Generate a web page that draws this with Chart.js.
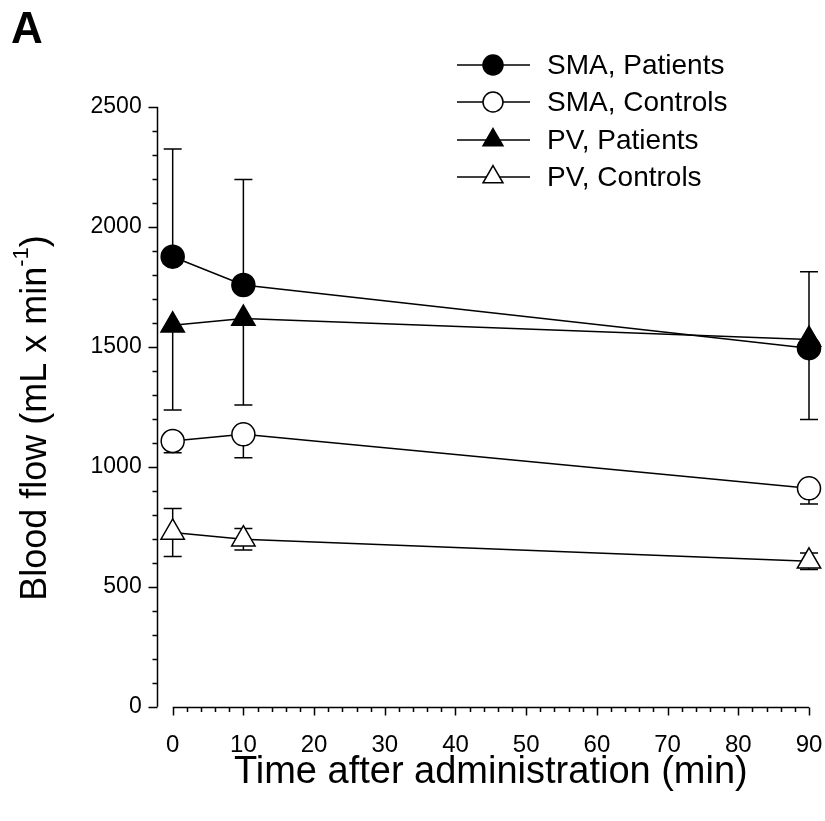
<!DOCTYPE html>
<html lang="en">
<head>
    <meta charset="UTF-8">
    <title>Blood flow</title>
    <style>
        body { margin: 0; background: #fff; }
        #chart { display: block; }
    </style>
</head>
<body>
    <canvas id="chart" width="825" height="821"></canvas>
    <script src="https://cdn.jsdelivr.net/npm/chart.js"></script>
    <script>
        // data (min after administration, mL/min)
        const times = [0, 10, 90];
        const smaPatients = [1875, 1757, 1494];
        const smaPatientsErr = [449, 440, 318];
        const smaControls = [1107, 1135, 910];
        const smaControlsErr = [49, 98, 65];
        const pvPatients = [1589, 1617, 1530];
        const pvPatientsErr = [353, 360, 333];
        const pvControls = [726, 698, 606];
        const pvControlsErr = [100, 45, 34];

        const seriesNames = ['SMA, Patients', 'SMA, Controls', 'PV, Patients', 'PV, Controls'];
        const xTicks = [0, 10, 20, 30, 40, 50, 60, 70, 80, 90];
        const yTicks = [0, 500, 1000, 1500, 2000, 2500];

        const FONT = 'Arial, "Liberation Sans", sans-serif';

        function pts(vals) { return times.map((t, i) => ({ x: t, y: vals[i] })); }

        function makeSet(label, vals, err, dir, style, fill, r) {
            return {
                label: label,
                data: pts(vals),
                errors: err,
                errDir: dir,
                borderColor: '#000',
                borderWidth: 1.5,
                backgroundColor: fill,
                pointStyle: style,
                pointRadius: r,
                pointHoverRadius: r,
                pointBackgroundColor: fill,
                pointBorderColor: '#000',
                pointBorderWidth: 1.5,
                tension: 0,
                clip: false
            };
        }

        const datasets = [
            makeSet(seriesNames[0], smaPatients, smaPatientsErr, 'up', 'circle', '#000', 11.5),
            makeSet(seriesNames[1], smaControls, smaControlsErr, 'down', 'circle', '#fff', 11.5),
            makeSet(seriesNames[2], pvPatients, pvPatientsErr, 'down', 'triangle', '#000', 13.5),
            makeSet(seriesNames[3], pvControls, pvControlsErr, 'both', 'triangle', '#fff', 13.5)
        ];

        // error bars, axes with minor ticks, legend, axis titles and panel letter
        const extras = {
            id: 'extras',
            beforeDatasetsDraw(chart) {
                const ctx = chart.ctx, xs = chart.scales.x, ys = chart.scales.y;
                ctx.save();
                ctx.strokeStyle = '#000';
                ctx.lineWidth = 1.5;
                chart.data.datasets.forEach(ds => {
                    ds.data.forEach((p, i) => {
                        const px = xs.getPixelForValue(p.x);
                        const e = ds.errors[i];
                        const ends = [];
                        if (ds.errDir !== 'down') ends.push(p.y + e);
                        if (ds.errDir !== 'up') ends.push(p.y - e);
                        ends.forEach(v => {
                            const py = ys.getPixelForValue(v);
                            ctx.beginPath();
                            ctx.moveTo(px, ys.getPixelForValue(p.y));
                            ctx.lineTo(px, py);
                            ctx.moveTo(px - 9, py);
                            ctx.lineTo(px + 9, py);
                            ctx.stroke();
                        });
                    });
                });
                ctx.restore();
            },
            afterDraw(chart) {
                const ctx = chart.ctx, xs = chart.scales.x, ys = chart.scales.y;
                const area = chart.chartArea;
                ctx.save();
                ctx.strokeStyle = '#000';
                ctx.lineWidth = 1.5;

                // y axis
                const ax = Math.round(area.left) + 0.5;
                const y0 = ys.getPixelForValue(0), y1 = ys.getPixelForValue(2500);
                ctx.beginPath();
                ctx.moveTo(ax, y0);
                ctx.lineTo(ax, y1);
                for (let v = 0; v <= 2500; v += 100) {
                    const py = Math.round(ys.getPixelForValue(v)) + 0.5;
                    const len = v % 500 === 0 ? 9 : 5;
                    ctx.moveTo(ax, py);
                    ctx.lineTo(ax - len, py);
                }
                ctx.stroke();

                // x axis (starts at 0, detached from the y axis)
                const xa = Math.round(y0) + 0.5;
                const xl = xs.getPixelForValue(0), xr = xs.getPixelForValue(90);
                ctx.beginPath();
                ctx.moveTo(xl, xa);
                ctx.lineTo(xr, xa);
                for (let v = 0; v <= 90; v += 2) {
                    const px = Math.round(xs.getPixelForValue(v)) + 0.5;
                    const len = v % 10 === 0 ? 8 : 4.5;
                    ctx.moveTo(px, xa);
                    ctx.lineTo(px, xa + len);
                }
                ctx.stroke();

                // x title, centred on the x axis line
                ctx.fillStyle = '#000';
                ctx.font = '38px ' + FONT;
                ctx.textAlign = 'center';
                ctx.textBaseline = 'middle';
                ctx.fillText('Time after administration (min)', (xl + xr) / 2, 773);

                // legend
                const legY = [65, 102, 140, 177];
                chart.data.datasets.forEach((ds, i) => {
                    const y = legY[i];
                    ctx.beginPath();
                    ctx.lineWidth = 1.5;
                    ctx.moveTo(457, y);
                    ctx.lineTo(530, y);
                    ctx.stroke();
                    ctx.fillStyle = ds.pointBackgroundColor;
                    Chart.helpers.drawPoint(ctx, {
                        pointStyle: ds.pointStyle,
                        radius: ds.pointStyle === 'circle' ? 10 : 11.5,
                        rotation: 0,
                        borderWidth: 1.5
                    }, 493, y);
                    ctx.fillStyle = '#000';
                    ctx.font = '28px ' + FONT;
                    ctx.textAlign = 'left';
                    ctx.textBaseline = 'middle';
                    ctx.fillText(ds.label, 547, y + 1);
                });

                // y title with superscript
                ctx.save();
                ctx.translate(36, 418);
                ctx.rotate(-Math.PI / 2);
                ctx.fillStyle = '#000';
                ctx.textBaseline = 'middle';
                ctx.textAlign = 'left';
                const big = '36px ' + FONT, small = '22px ' + FONT;
                const t1 = 'Blood flow (mL x min', t2 = '-1', t3 = ')';
                ctx.font = big; const w1 = ctx.measureText(t1).width, w3 = ctx.measureText(t3).width;
                ctx.font = small; const w2 = ctx.measureText(t2).width;
                let sx = -(w1 + w2 + w3) / 2;
                ctx.font = big; ctx.fillText(t1, sx, 0); sx += w1;
                ctx.font = small; ctx.fillText(t2, sx, -14); sx += w2;
                ctx.font = big; ctx.fillText(t3, sx, 0);
                ctx.restore();

                // panel letter
                ctx.fillStyle = '#000';
                ctx.font = 'bold 44px ' + FONT;
                ctx.textAlign = 'left';
                ctx.textBaseline = 'alphabetic';
                ctx.fillText('A', 11, 43);
                ctx.restore();
            }
        };

        const ctx = document.getElementById('chart').getContext('2d');
        new Chart(ctx, {
            type: 'line',
            data: { datasets: datasets },
            plugins: [extras],
            options: {
                responsive: false,
                animation: false,
                layout: { padding: { top: 106.7, right: 16, left: 0, bottom: 0 } },
                plugins: { legend: { display: false }, tooltip: { enabled: false } },
                scales: {
                    x: {
                        type: 'linear',
                        min: -2.26,
                        max: 90,
                        grid: { display: false },
                        border: { display: false },
                        afterBuildTicks: s => { s.ticks = xTicks.map(v => ({ value: v })); },
                        afterFit: s => { s.height = 114.3; s.paddingLeft = 0; s.paddingRight = 0; },
                        ticks: {
                            color: '#000', font: { size: 24, family: FONT }, padding: 16, maxRotation: 0,
                            callback: v => String(v)
                        }
                    },
                    y: {
                        min: 0,
                        max: 2500,
                        grid: { display: false },
                        border: { display: false },
                        afterBuildTicks: s => { s.ticks = yTicks.map(v => ({ value: v })); },
                        afterFit: s => { s.width = 156.7; s.paddingTop = 0; s.paddingBottom = 0; },
                        ticks: { color: '#000', font: { size: 23, family: FONT }, padding: 7, callback: v => String(v) }
                    }
                }
            }
        });
    </script>
</body>
</html>
